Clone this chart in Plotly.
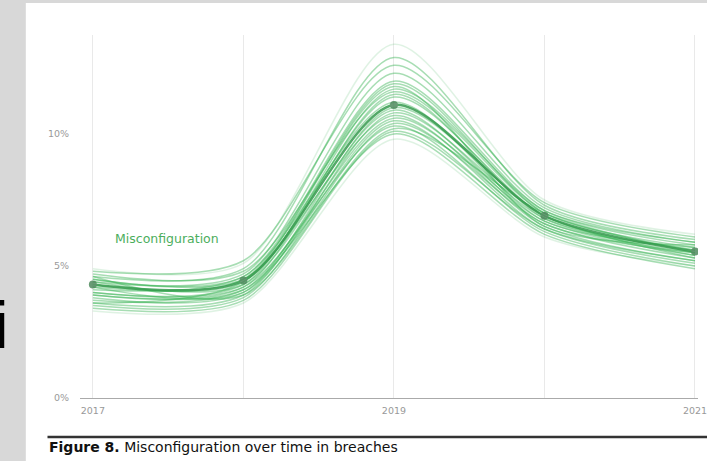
import plotly.graph_objects as go

years = [2017, 2018, 2019, 2020, 2021]
tick_labels = ["2017", "", "2019", "", "2021"]
y_ticks = [0, 5, 10]
y_tick_labels = ["0%", "5%", "10%"]

mean_values = [4.3, 4.45, 11.1, 6.9, 5.55]

draw_01 = [4.9, 5.1, 13.4, 7.5, 6.2]
draw_02 = [4.6, 4.9, 12.9, 7.3, 6.0]
draw_03 = [4.4, 4.7, 12.3, 7.2, 5.9]
draw_04 = [4.5, 4.6, 12.0, 7.1, 5.8]
draw_05 = [4.2, 4.5, 11.9, 7.0, 5.7]
draw_06 = [4.0, 4.3, 11.7, 7.1, 5.9]
draw_07 = [4.7, 4.8, 11.6, 7.0, 5.6]
draw_08 = [3.9, 4.2, 11.5, 6.8, 5.5]
draw_09 = [4.3, 4.4, 11.4, 6.9, 5.4]
draw_10 = [4.1, 4.6, 11.2, 6.7, 5.7]
draw_11 = [3.8, 4.0, 11.0, 6.9, 5.3]
draw_12 = [4.4, 4.3, 10.9, 6.6, 5.5]
draw_13 = [3.6, 3.9, 10.8, 6.8, 5.6]
draw_14 = [4.5, 4.5, 10.7, 6.5, 5.2]
draw_15 = [3.7, 4.1, 10.6, 6.7, 5.4]
draw_16 = [4.2, 4.0, 10.5, 6.4, 5.1]
draw_17 = [3.5, 3.8, 10.4, 6.6, 5.3]
draw_18 = [4.0, 4.2, 10.3, 6.3, 5.0]
draw_19 = [3.4, 3.7, 10.1, 6.4, 5.2]
draw_20 = [3.9, 4.1, 10.0, 6.2, 4.9]
draw_21 = [3.3, 3.6, 9.8, 6.1, 5.0]
draw_22 = [4.8, 5.2, 12.6, 7.4, 6.1]
draw_23 = [3.6, 4.4, 11.8, 6.5, 5.8]
draw_24 = [4.6, 3.9, 10.2, 7.0, 5.5]

draws = [draw_01, draw_02, draw_03, draw_04, draw_05, draw_06, draw_07, draw_08,
         draw_09, draw_10, draw_11, draw_12, draw_13, draw_14, draw_15, draw_16,
         draw_17, draw_18, draw_19, draw_20, draw_21, draw_22, draw_23, draw_24]
faint = {0, 20}

series_label = "Misconfiguration"
caption_bold = "Figure 8."
caption_rest = " Misconfiguration over time in breaches"

fig = go.Figure()

for i, d in enumerate(draws):
    op = 0.15 if i in faint else 0.42
    fig.add_trace(go.Scatter(
        x=years, y=d, mode="lines",
        line=dict(color="#2fb04c", width=1.5, shape="spline", smoothing=0.8),
        opacity=op, hoverinfo="skip", showlegend=False))

fig.add_trace(go.Scatter(
    x=years, y=mean_values, mode="lines+markers",
    line=dict(color="#369b4e", width=2.5, shape="spline", smoothing=0.8),
    marker=dict(color="#4f8a5e", size=8),
    opacity=0.85, showlegend=False))

fig.add_annotation(x=2017.495, y=6.06, xref="x", yref="y", text=series_label,
                   showarrow=False, font=dict(family="DejaVu Sans", size=12.5, color="#4cae5c"))

# caption
fig.add_annotation(x=-0.0526, y=-0.135, xref="paper", yref="paper", xanchor="left", yanchor="middle",
                   text="<b>" + caption_bold + "</b>" + caption_rest, showarrow=False,
                   font=dict(family="DejaVu Sans", size=14, color="#111111"))
fig.add_shape(type="line", xref="paper", yref="paper", x0=-0.0526, x1=1.1, y0=-0.1074, y1=-0.1074,
              line=dict(color="#333333", width=2.5))

# white panel over grey page
fig.add_shape(type="rect", xref="paper", yref="paper", x0=-0.0877, x1=1.1, y0=-0.2, y1=1.088,
              fillcolor="white", line=dict(width=0), layer="below")

# cut-off glyph at the far left
fig.add_annotation(x=-0.1276, y=0.20, xref="paper", yref="paper", xanchor="center", yanchor="middle",
                   text="i", showarrow=False, font=dict(family="Liberation Sans", size=66, color="black"))

fig.update_layout(
    width=707, height=461,
    margin=dict(l=80, r=0, t=35, b=63),
    paper_bgcolor="#d8d8d8", plot_bgcolor="white",
    font=dict(family="DejaVu Sans"),
    xaxis=dict(range=[2016.9145, 2021.02], tickvals=years, ticktext=tick_labels,
               showgrid=True, gridcolor="#e9e9e9", gridwidth=1, zeroline=False,
               showline=True, linecolor="#aaaaaa", linewidth=1,
               tickfont=dict(size=9.5, color="#999999"), ticks="", ticklabelstandoff=4,
               ticklabeloverflow="allow"),
    yaxis=dict(range=[0, 13.75], tickvals=y_ticks, ticktext=y_tick_labels,
               showgrid=False, zeroline=False, showline=False,
               tickfont=dict(size=9.5, color="#999999"), ticks="", ticklabelstandoff=10),
)

fig.write_html("out.html", config={"displayModeBar": False},
               post_script="document.body.style.margin='0';")
